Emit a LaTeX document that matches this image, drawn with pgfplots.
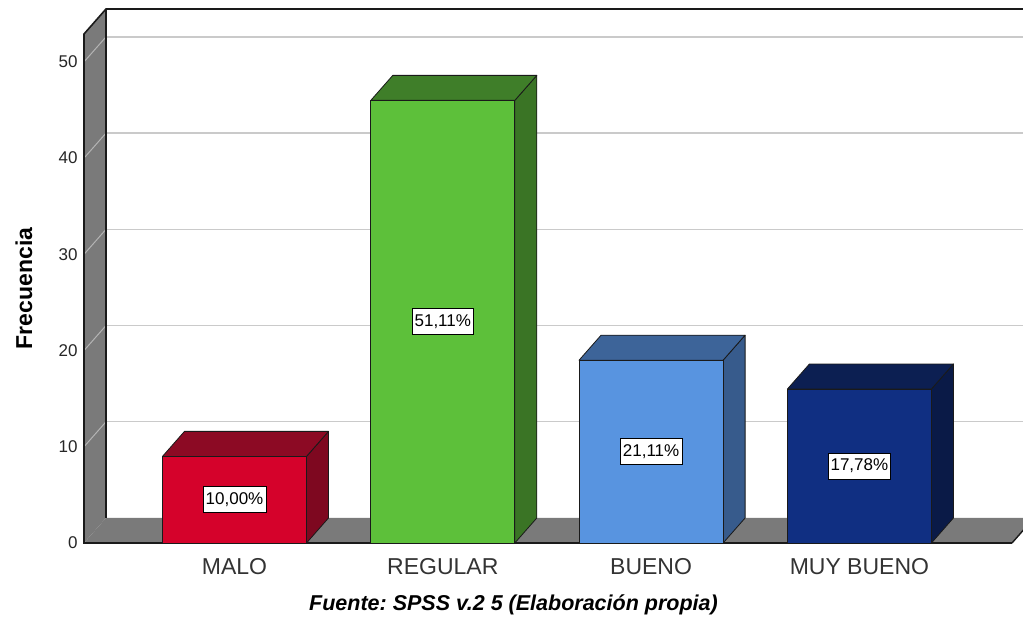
\documentclass[border=0pt]{standalone}
\usepackage{fontspec}
\setmainfont{Liberation Sans}
\usepackage{pgfplots}
\pgfplotsset{compat=1.18}
\frenchspacing

% face colours: front / top / side
\definecolor{maloF}{HTML}{D5022B}
\definecolor{maloT}{HTML}{8C0A24}
\definecolor{maloS}{HTML}{7E0820}
\definecolor{regF}{HTML}{5DC03A}
\definecolor{regT}{HTML}{3F7E29}
\definecolor{regS}{HTML}{3A7425}
\definecolor{bueF}{HTML}{5894E0}
\definecolor{bueT}{HTML}{3D6499}
\definecolor{bueS}{HTML}{375B8C}
\definecolor{muyF}{HTML}{102F82}
\definecolor{muyT}{HTML}{0C1F52}
\definecolor{muyS}{HTML}{0A1A47}
\definecolor{wallc}{HTML}{7A7A7A}
\definecolor{gridc}{HTML}{CACACA}
\definecolor{wgridc}{HTML}{B4B4B4}
\definecolor{edgec}{HTML}{1A1A1A}

\tikzset{lab/.style={anchor=center, fill=white, draw=black, line width=0.6pt,
    inner xsep=2.5pt, inner ysep=6pt, font=\fontsize{17}{20}\selectfont, text=black}}

% geometry of the box (axis units)
\def\xlo{-0.7225}   % front-left edge of the chart box
\def\xhi{3.7326}    % front-right edge of the floor
\def\ytop{52.9}     % top of the walls
\def\depthx{0.1056} % depth offset, x
\def\depthy{2.6}    % depth offset, y
\def\hw{0.3457}     % half bar width
\def\bw{0.6914}     % bar width

% one solid bar: center, value, front, top, side, label
\newcommand\solidbar[6]{%
  \pgfmathsetmacro\xl{#1-\hw}%
  \pgfmathsetmacro\xr{#1+\hw}%
  \pgfmathsetmacro\xlb{#1-\hw+\depthx}%
  \pgfmathsetmacro\xrb{#1+\hw+\depthx}%
  \pgfmathsetmacro\topy{#2+\depthy}%
  \pgfmathsetmacro\midy{#2/2}%
  \edef\barcmds{%
    \noexpand\addplot[fill=#5, draw=edgec, line width=0.8pt, line join=round]
      coordinates {(\xr,0) (\xrb,\depthy) (\xrb,\topy) (\xr,#2)} -- cycle;
    \noexpand\addplot[fill=#4, draw=edgec, line width=0.8pt, line join=round]
      coordinates {(\xl,#2) (\xr,#2) (\xrb,\topy) (\xlb,\topy)} -- cycle;
    \noexpand\addplot[ybar, bar width=\bw, bar shift=0pt, fill=#3, draw=edgec, line width=0.8pt]
      coordinates {(#1,#2)};
    \noexpand\addplot[draw=none, point meta=explicit symbolic, nodes near coords,
      every node near coord/.append style={lab}]
      coordinates {(#1,\midy) [\unexpanded{#6}]};
  }\barcmds}

\begin{document}
\begin{tikzpicture}
\begin{axis}[
  name=ax,
  scale only axis, width=928pt, height=509pt,
  xmin=\xlo, xmax=\xhi, ymin=0, ymax=\ytop,
  clip=false,
  axis line style={draw=none}, tick style={draw=none}, major tick length=0pt,
  xtick={0,1,2,3}, xticklabels={MALO,REGULAR,BUENO,MUY BUENO},
  ytick={0,10,20,30,40,50},
  /pgf/number format/assume math mode=true,
  yticklabel style={font=\fontsize{17}{20}\selectfont, text=black!85, anchor=east, xshift=-3pt},
  xticklabel style={font=\fontsize{23}{26}\selectfont, text=black!80, anchor=north, yshift=-12pt},
  ylabel={Frecuencia},
  ylabel style={font=\bfseries\fontsize{23}{26}\selectfont, at={(axis description cs:-0.0647,0.5)}, anchor=center},
  xlabel={Fuente: SPSS v.2 5 (Elaboración propia)},
  xlabel style={font=\bfseries\itshape\fontsize{21.5}{24}\selectfont, at={(axis description cs:0.4628,-0.121)}, anchor=center},
]
% left wall
\addplot[fill=wallc, draw=none]
  coordinates {(\xlo,0) (\xlo,\ytop) (-0.6169,55.5) (-0.6169,2.6)} -- cycle;
% floor
\addplot[fill=wallc, draw=none]
  coordinates {(\xlo,0) (\xhi,0) (3.8382,2.6) (-0.6169,2.6)} -- cycle;
% grid lines on the back wall
\addplot[gridc, line width=1.4pt] coordinates {(-0.6169,12.6) (3.9,12.6)};
\addplot[gridc, line width=1.4pt] coordinates {(-0.6169,22.6) (3.9,22.6)};
\addplot[gridc, line width=1.4pt] coordinates {(-0.6169,32.6) (3.9,32.6)};
\addplot[gridc, line width=1.4pt] coordinates {(-0.6169,42.6) (3.9,42.6)};
\addplot[gridc, line width=1.4pt] coordinates {(-0.6169,52.6) (3.9,52.6)};
% grid lines across the left wall
\addplot[wgridc, line width=1pt] coordinates {(\xlo,10) (-0.6169,12.6)};
\addplot[wgridc, line width=1pt] coordinates {(\xlo,20) (-0.6169,22.6)};
\addplot[wgridc, line width=1pt] coordinates {(\xlo,30) (-0.6169,32.6)};
\addplot[wgridc, line width=1pt] coordinates {(\xlo,40) (-0.6169,42.6)};
\addplot[wgridc, line width=1pt] coordinates {(\xlo,50) (-0.6169,52.6)};
% box edges
\addplot[edgec, line width=1.6pt, line join=miter]
  coordinates {(\xhi,0) (\xlo,0) (\xlo,\ytop) (-0.6169,55.5) (3.9,55.5)};
\addplot[edgec, line width=1.4pt] coordinates {(-0.6169,2.6) (-0.6169,55.5)};
\addplot[edgec, line width=1.4pt] coordinates {(\xhi,0) (3.8382,2.6)};
% bars (frequencies out of 90)
\solidbar{0}{9}{maloF}{maloT}{maloS}{10,00\%}
\solidbar{1}{46}{regF}{regT}{regS}{51,11\%}
\solidbar{2}{19}{bueF}{bueT}{bueS}{21,11\%}
\solidbar{3}{16}{muyF}{muyT}{muyS}{17,78\%}
\end{axis}
\pgfresetboundingbox
\path[use as bounding box] ([xshift=-84pt,yshift=-73pt]ax.south west)
  rectangle ([xshift=11pt,yshift=34pt]ax.north east);
\end{tikzpicture}
\end{document}
